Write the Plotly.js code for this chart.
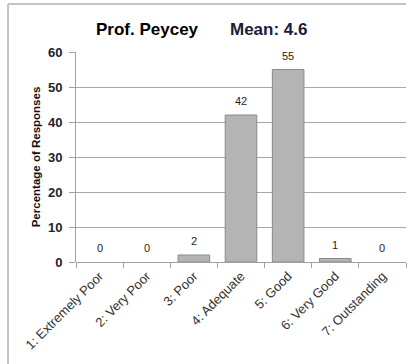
<!DOCTYPE html>
<html>
<head>
<meta charset="utf-8">
<script src="https://cdn.plot.ly/plotly-3.0.1.min.js"></script>
<style>
  html, body { margin: 0; padding: 0; background: #ffffff; }
  #chart { width: 416px; height: 364px; }
</style>
</head>
<body>
<div id="chart"></div>
<script>
// Rating categories and share of responses (%)
const categories = ['1: Extremely Poor', '2: Very Poor', '3: Poor', '4: Adequate', '5: Good', '6: Very Good', '7: Outstanding'];
const percentages = [0, 0, 2, 42, 55, 1, 0];
const yTicks = [0, 10, 20, 30, 40, 50, 60];
const instructor = 'Prof. Peycey';
const meanLabel = 'Mean: 4.6';

const FONT = 'Liberation Sans, Arial, sans-serif';

const trace = {
  type: 'bar',
  x: categories,
  y: percentages,
  marker: {
    color: '#b4b4b4',
    // empty categories get no outline so nothing is drawn for them
    line: { color: '#8a8a8a', width: percentages.map(v => (v > 0 ? 1 : 0)) }
  },
  hoverinfo: 'skip'
};

// Value labels sit a little above each bar
const valueLabels = categories.map((c, i) => ({
  x: c, y: percentages[i], xref: 'x', yref: 'y',
  text: String(percentages[i]),
  showarrow: false, yanchor: 'bottom', yshift: 6,
  font: { family: FONT, size: 11, color: '#1e1e1e' }
}));

const titleParts = [
  { x: 0.218, text: '<b>' + instructor + '</b>', color: '#000000' },
  { x: 0.582, text: '<b>' + meanLabel + '</b>', color: '#18203a' }
].map(p => ({
  x: p.x, y: 1.105, xref: 'paper', yref: 'paper',
  xanchor: 'center', yanchor: 'middle', showarrow: false,
  text: p.text, font: { family: FONT, size: 17, color: p.color }
}));

const layout = {
  width: 416, height: 364,
  margin: { l: 76, r: 10, t: 52, b: 102 },
  paper_bgcolor: '#ffffff', plot_bgcolor: '#ffffff',
  showlegend: false,
  bargap: 0.33,
  xaxis: {
    type: 'category',
    tickangle: -45,
    tickson: 'boundaries',
    ticks: 'outside', ticklen: 5, tickcolor: '#a0a0a0',
    ticklabelstandoff: 3,
    showgrid: false,
    showline: false,
    tickfont: { family: FONT, size: 13, color: '#333333' },
    fixedrange: true
  },
  yaxis: {
    range: [0, 60],
    tickvals: yTicks,
    ticktext: yTicks.map(v => '<b>' + v + '</b>'),
    ticks: 'outside', ticklen: 6, tickcolor: '#a0a0a0',
    ticklabelstandoff: 4,
    showline: true, linecolor: '#a0a0a0', linewidth: 1,
    showgrid: true, gridcolor: '#a8a8a8', gridwidth: 1,
    zeroline: true, zerolinecolor: '#a0a0a0', zerolinewidth: 1,
    tickfont: { family: FONT, size: 13, color: '#1c2233' },
    title: { text: '<b>Percentage of Responses</b>', font: { family: FONT, size: 11.5, color: '#111111' }, standoff: 4 },
    fixedrange: true
  },
  annotations: titleParts.concat(valueLabels),
  shapes: [
    // frame around the chart area (top and left edges)
    { type: 'line', xref: 'paper', yref: 'paper', x0: -0.206, x1: 1.0, y0: 1.2286, y1: 1.2286, line: { color: '#c4c4c4', width: 2 } },
    { type: 'line', xref: 'paper', yref: 'paper', x0: -0.206, x1: -0.206, y0: 1.2286, y1: -0.5, line: { color: '#c4c4c4', width: 2 } }
  ]
};

Plotly.newPlot('chart', [trace], layout, { staticPlot: true, displayModeBar: false });
</script>
</body>
</html>
